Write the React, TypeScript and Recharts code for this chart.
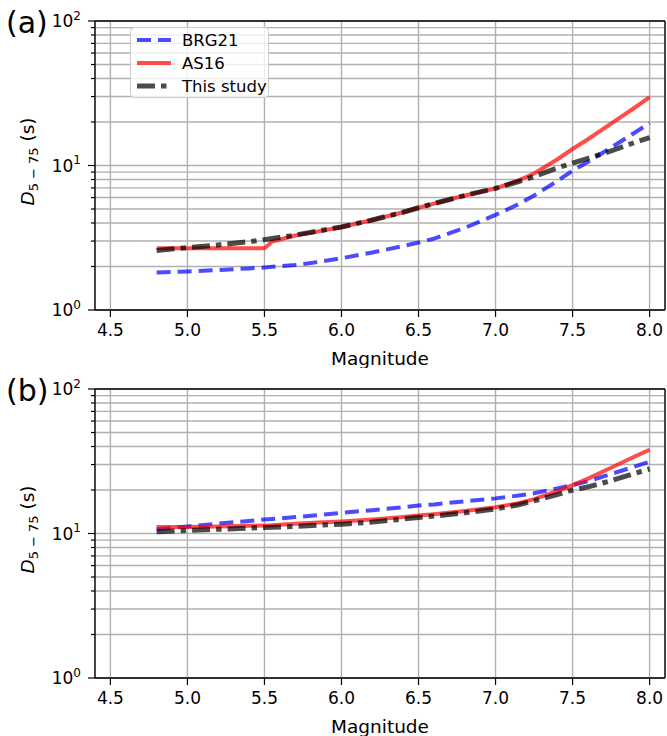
import {
  CartesianGrid,
  Legend,
  Line,
  LineChart,
  ReferenceLine,
  XAxis,
  YAxis,
} from "recharts";

const FONT = '"DejaVu Sans", Verdana, sans-serif';

// magnitudes shared by every curve
const magnitudes = [
  4.8, 5.0, 5.2, 5.4, 5.5, 5.55, 5.7, 5.85, 6.0, 6.2, 6.4, 6.5, 6.6, 6.8, 7.0,
  7.15, 7.25, 7.4, 7.5, 7.6, 7.75, 7.9, 8.0,
];

// panel (a)
const brg21A = [
  1.82, 1.85, 1.89, 1.94, 1.97, 1.99, 2.05, 2.15, 2.28, 2.5, 2.77, 2.93, 3.12,
  3.7, 4.55, 5.4, 6.2, 7.8, 9.2, 10.6, 13.3, 16.8, 19.6,
];
const as16A = [
  2.67, 2.67, 2.67, 2.67, 2.67, 2.98, 3.28, 3.5, 3.75, 4.2, 4.75, 5.1, 5.45,
  6.2, 6.95, 7.9, 8.8, 11.0, 13.0, 15.2, 19.5, 25.0, 29.7,
];
const studyA = [
  2.58, 2.7, 2.82, 2.97, 3.07, 3.12, 3.3, 3.52, 3.75, 4.2, 4.75, 5.1, 5.45, 6.2,
  6.95, 7.75, 8.4, 9.6, 10.4, 11.2, 12.6, 14.4, 15.6,
];

// panel (b)
const brg21B = [
  10.7, 11.2, 11.7, 12.2, 12.5, 12.6, 13.0, 13.4, 13.9, 14.5, 15.2, 15.6, 15.9,
  16.7, 17.5, 18.3, 19.0, 20.5, 21.6, 23.0, 25.8, 29.0, 31.4,
];
const as16B = [
  11.1, 11.1, 11.2, 11.3, 11.35, 11.4, 11.7, 11.9, 12.1, 12.5, 13.0, 13.3, 13.6,
  14.3, 15.2, 16.2, 17.3, 19.6, 21.6, 24.0, 28.5, 34.0, 38.0,
];
const studyB = [
  10.3, 10.5, 10.7, 10.9, 11.0, 11.05, 11.2, 11.4, 11.6, 12.0, 12.6, 12.9, 13.2,
  13.9, 14.8, 15.8, 16.8, 18.6, 20.0, 21.0, 23.2, 26.0, 28.0,
];

const xTicks = [4.5, 5.0, 5.5, 6.0, 6.5, 7.0, 7.5, 8.0];
const yTicks = [1, 2, 3, 4, 5, 6, 7, 8, 9, 10, 20, 30, 40, 50, 60, 70, 80, 90, 100];

const series = [
  { key: "brg", name: "BRG21", color: "blue", width: 4, dash: "14 7" },
  { key: "as16", name: "AS16", color: "red", width: 4, dash: undefined },
  { key: "study", name: "This study", color: "black", width: 5, dash: "18 6 5.5 6" },
];

function buildRows(brg: number[], as16: number[], study: number[]) {
  return magnitudes.map((m, i) => ({ m, brg: brg[i], as16: as16[i], study: study[i] }));
}

const rowsA = buildRows(brg21A, as16A, studyA);
const rowsB = buildRows(brg21B, as16B, studyB);

function YTick(props: any) {
  const { x, y, payload } = props;
  const v = payload.value;
  const exp = Math.round(Math.log10(v));
  const major = Math.abs(Math.pow(10, exp) - v) < 1e-9;
  return (
    <g>
      <line x1={x - (major ? 7 : 4)} x2={x} y1={y} y2={y} stroke="#000" strokeWidth={1.2} />
      {major && (
        <text x={x - 14} y={y + 6} textAnchor="end" fontSize={17} fontFamily={FONT} fill="#000">
          10
          <tspan dy={-7.5} fontSize={12}>
            {exp}
          </tspan>
        </text>
      )}
    </g>
  );
}

function YLabel(props: any) {
  const vb = props.viewBox || {};
  const cx = 34;
  const cy = vb.y + vb.height / 2 - 4;
  return (
    <text
      x={cx}
      y={cy}
      transform={`rotate(-90, ${cx}, ${cy})`}
      textAnchor="middle"
      fontSize={18.5}
      fontFamily={FONT}
      fill="#000"
    >
      <tspan fontStyle="italic">D</tspan>
      <tspan dy={4} fontSize={13}>
        5 − 75
      </tspan>
      <tspan dy={-4}> (s)</tspan>
    </text>
  );
}

function XLabel(props: any) {
  const vb = props.viewBox || {};
  return (
    <text
      x={vb.x + vb.width / 2}
      y={vb.y + 55}
      textAnchor="middle"
      fontSize={18.5}
      fontFamily={FONT}
      fill="#000"
    >
      Magnitude
    </text>
  );
}

function LegendBox() {
  return (
    <svg width={139} height={71} style={{ display: "block" }}>
      <rect x={0.5} y={0.5} width={138} height={70} rx={4} fill="#fff" fillOpacity={0.8} stroke="#cccccc" />
      {series.map((s, i) => {
        const cy = 13 + i * 23;
        return (
          <g key={s.key}>
            <line
              x1={7}
              x2={41}
              y1={cy}
              y2={cy}
              stroke={s.color}
              strokeOpacity={0.7}
              strokeWidth={s.width}
              strokeDasharray={s.dash}
            />
            <text x={52} y={cy + 6} fontSize={16.5} fontFamily={FONT} fill="#000">
              {s.name}
            </text>
          </g>
        );
      })}
    </svg>
  );
}

function Panel({ tag, rows, showLegend }: { tag: string; rows: any[]; showLegend: boolean }) {
  return (
    <div style={{ position: "relative", width: 667, height: 368 }}>
      <LineChart width={667} height={368} data={rows} margin={{ top: 21, right: 2, bottom: 0, left: 0 }}>
        <CartesianGrid horizontal={false} stroke="#b0b0b0" strokeWidth={1.4} />
        {yTicks.map((t) => (
          <ReferenceLine key={t} y={t} stroke="#b0b0b0" strokeWidth={1.4} />
        ))}
        <XAxis
          dataKey="m"
          type="number"
          domain={[4.4, 8.1]}
          allowDataOverflow
          ticks={xTicks}
          interval={0}
          height={58}
          tickSize={7}
          tickMargin={7}
          tickFormatter={(v) => Number(v).toFixed(1)}
          tick={{ fill: "#000", fontSize: 17, fontFamily: FONT }}
          axisLine={{ stroke: "#000", strokeWidth: 1.3 }}
          tickLine={{ stroke: "#000", strokeWidth: 1.2 }}
          label={<XLabel />}
        />
        <YAxis
          type="number"
          scale="log"
          domain={[1, 100]}
          allowDataOverflow
          ticks={yTicks}
          interval={0}
          width={95}
          tickSize={0}
          tickMargin={0}
          tickLine={false}
          tick={<YTick />}
          axisLine={{ stroke: "#000", strokeWidth: 1.3 }}
          label={<YLabel />}
        />
        <ReferenceLine x={8.1} stroke="#000" strokeWidth={1.3} />
        <ReferenceLine y={100} stroke="#000" strokeWidth={1.3} />
        {series.map((s) => (
          <Line
            key={s.key}
            type="linear"
            dataKey={s.key}
            name={s.name}
            stroke={s.color}
            strokeOpacity={0.7}
            strokeWidth={s.width}
            strokeDasharray={s.dash}
            dot={false}
            activeDot={false}
            isAnimationActive={false}
          />
        ))}
        {showLegend && (
          <Legend
            layout="vertical"
            align="center"
            verticalAlign="middle"
            wrapperStyle={{ left: 130, top: 27, width: 139, height: 71 }}
            content={() => <LegendBox />}
          />
        )}
      </LineChart>
      <div
        style={{
          position: "absolute",
          left: 6,
          top: 5,
          fontSize: 30,
          fontFamily: FONT,
          lineHeight: "normal",
          color: "#000",
        }}
      >
        {tag}
      </div>
    </div>
  );
}

export default function App() {
  return (
    <div style={{ position: "absolute", left: 0, top: 0, width: 667, height: 736, background: "#fff" }}>
      <Panel tag="(a)" rows={rowsA} showLegend={true} />
      <Panel tag="(b)" rows={rowsB} showLegend={false} />
    </div>
  );
}
